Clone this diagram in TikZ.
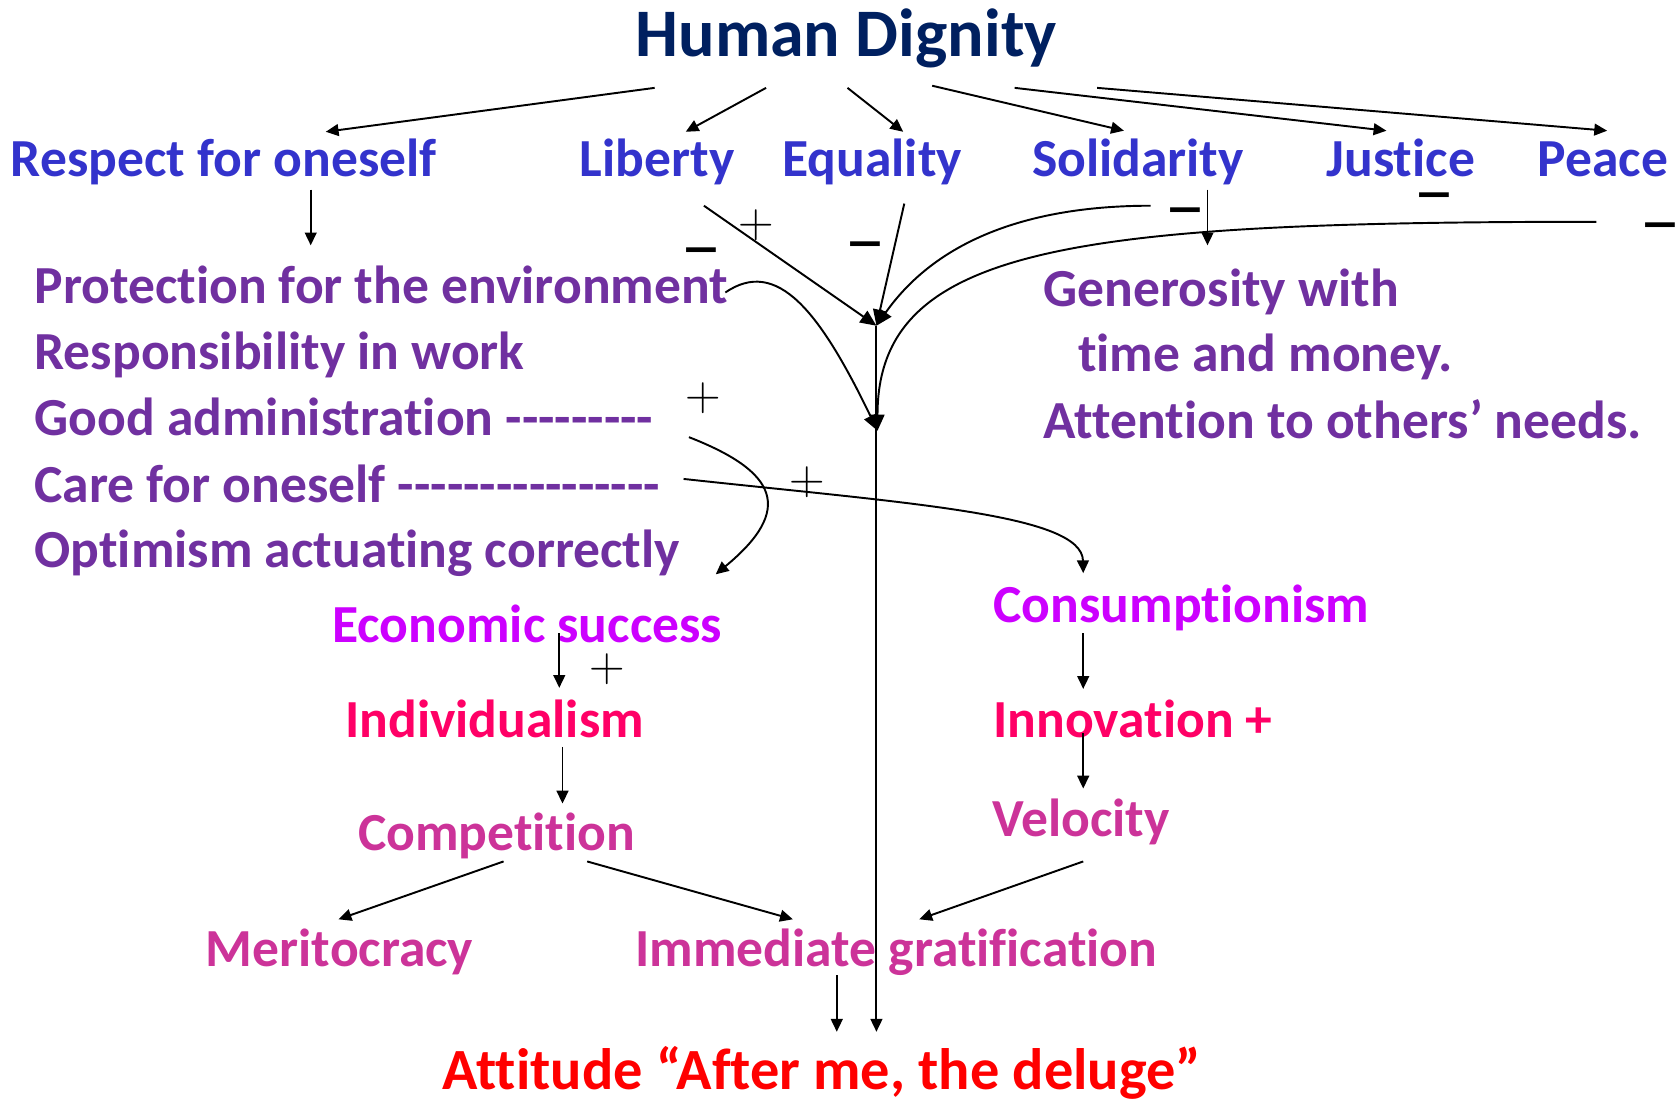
\documentclass[tikz,border=0pt]{standalone}
\usepackage{fontspec}
\setmainfont{Carlito}[Ligatures={TeXOff,NoCommon}]
\usetikzlibrary{arrows.meta,calc}
\definecolor{navy}{HTML}{002060}
\definecolor{vblue}{HTML}{3333CC}
\definecolor{vpurple}{HTML}{7030A0}
\definecolor{vmag}{HTML}{CC00FF}
\definecolor{vpink}{HTML}{FF0066}
\definecolor{vrose}{HTML}{CC3399}
\definecolor{vred}{HTML}{FF0000}
\begin{document}
\begin{tikzpicture}[x=1pt,y=-1pt,
  lbl/.style={inner sep=0pt, anchor=base west, font=\bfseries\fontsize{50}{50}\selectfont},
  ttl/.style={lbl, font=\bfseries\fontsize{63.5}{63.5}\selectfont, text=navy},
  blu/.style={lbl,text=vblue},
  pur/.style={lbl,text=vpurple},
  mag/.style={lbl,text=vmag},
  pnk/.style={lbl,text=vpink},
  ros/.style={lbl,text=vrose},
  fin/.style={lbl,font=\bfseries\fontsize{54.5}{54.5}\selectfont,text=vred},
  arr/.style={line width=1.8pt, -{Triangle[length=12pt,width=11pt]}},
  bigarr/.style={line width=1.8pt, -{Triangle[length=15pt,width=13pt]}},
  plussign/.style={inner sep=0pt, font=\fontfamily{lmr}\fontseries{m}\fontshape{n}\fontsize{46}{46}\selectfont},
  minussign/.style={inner sep=0pt, anchor=base, font=\bfseries\fontsize{56}{56}\selectfont},
]
\useasboundingbox (0,0) rectangle (1568,1028);
\node[ttl] (hd) at (593,53) {Human Dignity};
\node[blu] (resp) at (10,165) {Respect for oneself};
\node[blu] (lib) at (541,165) {Liberty};
\node[blu] (eq) at (730,165) {Equality};
\node[blu] (sol) at (963,165) {Solidarity};
\node[blu] (jus) at (1238,165) {Justice};
\node[blu] (pea) at (1435,165) {Peace};
\node[pur] (prot) at (32,283) {Protection for the environment};
\node[pur] (resw) at (32,345) {Responsibility in work};
\node[pur] (good) at (32,406) {Good administration ---------};
\node[pur] (care) at (32,469) {Care for oneself ----------------};
\node[pur] (opt) at (32,530) {Optimism actuating correctly};
\node[pur] (gen) at (974,286) {Generosity with};
\node[pur] (tim) at (1006,347) {time and money.};
\node[pur] (att2) at (974,409) {Attention to others’ needs.};
\node[mag] (eco) at (310,600) {Economic success};
\node[mag] (con) at (927,581) {Consumptionism};
\node[pnk] (ind) at (322,688) {Individualism};
\node[pnk] (inn) at (927,688) {Innovation +};
\node[ros] (com) at (334,794) {Competition};
\node[ros] (vel) at (926,781) {Velocity};
\node[ros] (mer) at (192,902) {Meritocracy};
\node[ros] (imm) at (593,902) {Immediate gratification};
\node[fin] (att) at (413,1017) {Attitude “After me, the deluge”};
\coordinate (J1) at (818,304);
\coordinate (J2) at (819,402);
\draw[arr] ($(hd.base west)+(18,29)$) -- ($(resp.base west)+(294,-42)$);
\draw[arr] ($(hd.base west)+(122,29)$) -- ($(lib.base west)+(99,-42)$);
\draw[arr] ($(hd.base west)+(198,29)$) -- ($(eq.base west)+(113,-42)$);
\draw[arr] ($(hd.base west)+(277,27)$) -- ($(sol.base west)+(86,-43)$);
\draw[arr] ($(hd.base west)+(354,29)$) -- ($(jus.base west)+(56,-43)$);
\draw[arr] ($(hd.base west)+(431,29)$) -- ($(pea.base west)+(65,-43)$);
\draw[arr] ($(resp.base west)+(280,12)$) -- ($(prot.base west)+(258,-54)$);
\draw[arr] ($(sol.base west)+(164,12)$) -- ($(gen.base west)+(153,-57)$);
\draw[bigarr] ($(lib.base west)+(116,27)$) -- (J1);
\draw[bigarr] ($(eq.base west)+(114,25)$) -- (J1);
\draw[bigarr] ($(sol.base west)+(111,27)$) .. controls (950,192) and (870,230) .. (J1);
\draw[bigarr] ($(prot.base west)+(645,-10)$) .. controls (725,240) and (765,290) .. (J2);
\draw[bigarr] ($(pea.base west)+(55,42)$) .. controls (1000,207) and (819,230) .. (J2);
\draw[arr] (J1) -- ($(att.base west)+(405,-54)$);
\draw[arr] ($(good.base west)+(611,2)$) .. controls (725,440) and (742,475) .. ($(eco.base west)+(358,-64)$);
\draw[arr] ($(care.base west)+(606,-22)$) .. controls (850,470) and (1010,480) .. ($(con.base west)+(84,-46)$);
\draw[arr] ($(eco.base west)+(212,-9)$) -- ($(ind.base west)+(200,-46)$);
\draw[arr] ($(ind.base west)+(203,9)$) -- ($(com.base west)+(191,-44)$);
\draw[arr] ($(com.base west)+(136,10)$) -- ($(mer.base west)+(124,-44)$);
\draw[arr] ($(com.base west)+(214,10)$) -- ($(imm.base west)+(147,-44)$);
\draw[arr] ($(vel.base west)+(85,23)$) -- ($(imm.base west)+(265,-44)$);
\draw[arr] ($(con.base west)+(84,10)$) -- ($(inn.base west)+(84,-45)$);
\draw[arr] ($(inn.base west)+(84,-4)$) -- ($(vel.base west)+(85,-45)$);
\draw[arr] ($(imm.base west)+(188,8)$) -- ($(att.base west)+(368,-54)$);
\node[plussign] (p1) at (706,210) {+};
\node[plussign] (p2) at (656,372) {+};
\node[plussign] (p3) at (753,450) {+};
\node[plussign] (p4) at (567,625) {+};
\node[minussign] (m1) at (655,248) {\scalebox{1.4}[0.9]{–}};
\node[minussign] (m2) at (808,242) {\scalebox{1.4}[0.9]{–}};
\node[minussign] (m3) at (1106,210) {\scalebox{1.4}[0.9]{–}};
\node[minussign] (m4) at (1339,196) {\scalebox{1.4}[0.9]{–}};
\node[minussign] (m5) at (1550,224) {\scalebox{1.4}[0.9]{–}};
\end{tikzpicture}
\end{document}
